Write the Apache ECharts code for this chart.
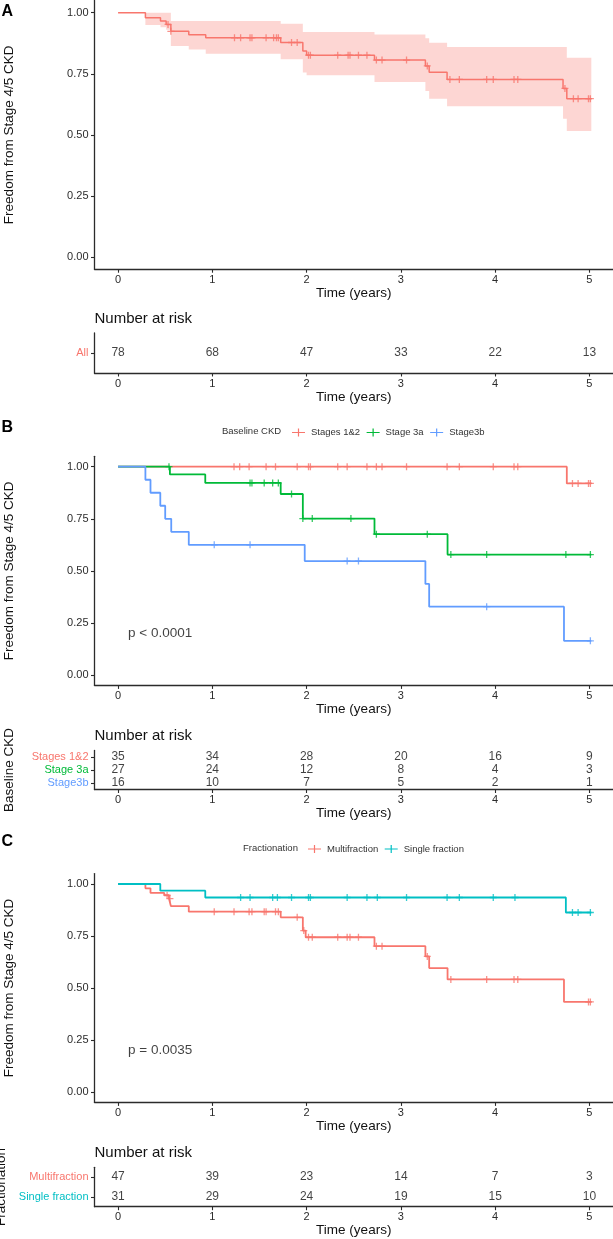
<!DOCTYPE html>
<html><head><meta charset="utf-8">
<script src="https://cdn.jsdelivr.net/npm/echarts@6/dist/echarts.min.js"></script>
<style>html,body{margin:0;padding:0;background:#fff}#c{width:613px;height:1239px}</style>
</head><body><div id="c"></div>
<script>
// ---------------- DATA ----------------
const xTicks = [0, 1, 2, 3, 4, 5];
const yTicks = [0, 0.25, 0.5, 0.75, 1];

// Panel A : all patients
const allTimes = [0, 0.29, 0.45, 0.51, 0.56, 0.75, 0.93, 1.725, 1.96, 2.0, 2.72, 3.26, 3.30, 3.49, 4.72, 4.76, 5.02];
const allSurv  = [1, 0.979, 0.966, 0.952, 0.924, 0.910, 0.897, 0.878, 0.843, 0.826, 0.806, 0.782, 0.756, 0.727, 0.690, 0.648, 0.648];
const allUpper = [1, 1, 1, 1, 0.966, 0.966, 0.966, 0.955, 0.921, 0.921, 0.911, 0.895, 0.877, 0.860, 0.860, 0.816, 0.816];
const allLower = [1, 0.95, 0.94, 0.93, 0.864, 0.849, 0.832, 0.809, 0.755, 0.744, 0.716, 0.680, 0.648, 0.617, 0.566, 0.516, 0.516];
const allCensor = [0.53, 0.56, 1.235, 1.30, 1.40, 1.42, 1.57, 1.65, 1.68, 1.70, 1.84, 1.90, 2.02, 2.04, 2.33, 2.44, 2.46, 2.55, 2.64, 2.74, 2.80, 3.06, 3.28, 3.52, 3.62, 3.91, 3.98, 4.20, 4.24, 4.74, 4.83, 4.88, 4.99, 5.01];
const riskAll = [78, 68, 47, 33, 22, 13];

// Panel B : baseline CKD
const ckdGroups = ['Stages 1&2', 'Stage 3a', 'Stage3b'];
const s12Times = [0, 4.76, 5.02];
const s12Surv  = [1, 0.92, 0.92];
const s12Censor = [1.23, 1.29, 1.39, 1.57, 1.67, 1.90, 2.02, 2.04, 2.33, 2.43, 2.64, 2.74, 2.80, 3.06, 3.49, 3.62, 3.98, 4.20, 4.24, 4.82, 4.88, 4.99, 5.01];
const s3aTimes = [0, 0.55, 0.925, 1.725, 1.96, 2.72, 3.495, 5.02];
const s3aSurv  = [1, 0.963, 0.922, 0.869, 0.751, 0.676, 0.578, 0.578];
const s3aCensor = [0.54, 1.40, 1.42, 1.55, 1.64, 1.70, 1.84, 1.96, 2.06, 2.47, 2.74, 3.28, 3.53, 3.91, 4.75, 5.01];
const s3bTimes = [0, 0.29, 0.344, 0.448, 0.50, 0.564, 0.75, 1.98, 3.26, 3.30, 4.73, 5.02];
const s3bSurv  = [1, 0.9375, 0.875, 0.8125, 0.75, 0.6875, 0.625, 0.547, 0.437, 0.328, 0.164, 0.164];
const s3bCensor = [1.02, 1.40, 2.43, 2.55, 3.91, 5.01];
const riskS12 = [35, 34, 28, 20, 16, 9];
const riskS3a = [27, 24, 12, 8, 4, 3];
const riskS3b = [16, 10, 7, 5, 2, 1];
const pCKD = 'p < 0.0001';

// Panel C : fractionation
const fracGroups = ['Multifraction', 'Single fraction'];
const multiTimes = [0, 0.29, 0.344, 0.49, 0.54, 0.56, 0.75, 1.725, 1.96, 1.99, 2.72, 3.26, 3.30, 3.495, 4.73, 5.02];
const multiSurv  = [1, 0.979, 0.957, 0.946, 0.93, 0.894, 0.867, 0.84, 0.776, 0.744, 0.701, 0.652, 0.596, 0.541, 0.433, 0.433];
const multiCensor = [0.52, 0.55, 1.02, 1.23, 1.39, 1.42, 1.55, 1.57, 1.67, 1.70, 1.90, 1.97, 2.02, 2.06, 2.33, 2.43, 2.46, 2.55, 2.74, 2.80, 3.28, 3.53, 3.91, 4.20, 4.24, 4.99, 5.01];
const singleTimes = [0, 0.448, 0.925, 4.75, 5.02];
const singleSurv  = [1, 0.968, 0.935, 0.863, 0.863];
const singleCensor = [1.30, 1.40, 1.64, 1.69, 1.84, 2.02, 2.04, 2.43, 2.64, 2.75, 3.06, 3.49, 3.62, 3.98, 4.21, 4.82, 4.88, 5.01];
const riskMulti  = [47, 39, 23, 14, 7, 3];
const riskSingle = [31, 29, 24, 19, 15, 10];
const pFrac = 'p = 0.0035';

// ---------------- STYLE / LAYOUT ----------------
const FONT = '"Liberation Sans", Arial, Helvetica, sans-serif';
const AX = '#2b2b2b';
const RED = '#F8766D', GREEN = '#00BA38', BLUE = '#619CFF', CYAN = '#00BFC4';
const CROSS = 'path://M0,5L10,5M5,0L5,10';
const LEGICON = 'path://M0,3.4H13V4.6H0Z M5.9,0H7.1V8H5.9Z';

const G = {left: 94.5, right: 0, containLabel: false, outerBoundsMode: 'none'};
const grids = [
  Object.assign({top: 0.5,    height: 268.7}, G),   // 0 A plot
  Object.assign({top: 333,    height: 40}, G),      // 1 A risk
  Object.assign({top: 456.3,  height: 229.1}, G),   // 2 B plot
  Object.assign({top: 750.5,  height: 39}, G),      // 3 B risk
  Object.assign({top: 873.6,  height: 228.8}, G),   // 4 C plot
  Object.assign({top: 1167.3, height: 39.4}, G)     // 5 C risk
];

function survAt(times, surv, t) {
  let v = surv[0];
  for (let i = 0; i < times.length; i++) if (times[i] <= t) v = surv[i];
  return v;
}

function xAxisFor(gi) {
  return {
    type: 'value', gridIndex: gi, min: -0.25, max: 5.25,
    axisLine: {show: true, onZero: false, lineStyle: {color: AX, width: 1.3}},
    axisTick: {show: true, length: 3.5, customValues: xTicks, lineStyle: {color: AX, width: 1.1}},
    axisLabel: {customValues: xTicks, fontSize: 11, color: AX, margin: 5, fontFamily: FONT},
    splitLine: {show: false},
    name: 'Time (years)', nameLocation: 'middle', nameGap: 17,
    nameTextStyle: {fontSize: 13.5, color: '#111', fontFamily: FONT}
  };
}
function yPlotAxis(gi) {
  return {
    type: 'value', gridIndex: gi, min: -0.05, max: 1.05,
    axisLine: {show: true, onZero: false, lineStyle: {color: AX, width: 1.3}},
    axisTick: {show: true, length: 3.5, customValues: yTicks, lineStyle: {color: AX, width: 1.1}},
    axisLabel: {customValues: yTicks, fontSize: 11, color: AX, margin: 6, fontFamily: FONT,
      formatter: v => v.toFixed(2)},
    splitLine: {show: false},
    name: 'Freedom from Stage 4/5 CKD', nameLocation: 'middle', nameGap: 78,
    nameTextStyle: {fontSize: 13.5, color: '#111', fontFamily: FONT}
  };
}
function yRiskAxis(gi, groups, colors, title) {
  const cmap = {};
  groups.forEach((g, i) => cmap[g] = colors[i]);
  return {
    type: 'category', gridIndex: gi, data: groups.slice().reverse(),
    axisLine: {show: true, onZero: false, lineStyle: {color: AX, width: 1.3}},
    axisTick: {show: true, alignWithLabel: true, interval: 0, length: 3.5, lineStyle: {color: AX, width: 1.1}},
    axisLabel: {interval: 0, fontSize: 11, margin: 6, fontFamily: FONT, color: v => cmap[v]},
    splitLine: {show: false},
    name: title, nameLocation: 'middle', nameGap: 78,
    nameTextStyle: {fontSize: 13.5, color: '#111', fontFamily: FONT}
  };
}

function kmSeries(name, times, surv, censor, color, ai, width) {
  return [
    {type: 'line', name: name, xAxisIndex: ai, yAxisIndex: ai, step: 'end', showSymbol: false,
     data: times.map((t, i) => [t, surv[i]]), color: color,
     lineStyle: {color: color, width: width}, itemStyle: {color: color}, z: 3, silent: true},
    {type: 'scatter', name: name + ' censor', xAxisIndex: ai, yAxisIndex: ai, symbol: CROSS, symbolSize: 7,
     data: censor.map(t => [t, survAt(times, surv, t)]),
     itemStyle: {color: 'rgba(0,0,0,0)', borderColor: color, borderWidth: 1.3}, z: 4, silent: true}
  ];
}
function riskSeries(ai, group, counts) {
  return {type: 'scatter', xAxisIndex: ai, yAxisIndex: ai, symbolSize: 1, silent: true,
    itemStyle: {color: 'rgba(0,0,0,0)'},
    data: xTicks.map((t, i) => [t, group, counts[i]]),
    label: {show: true, position: 'inside', formatter: p => String(p.value[2]),
      fontSize: 12, color: '#111', fontFamily: FONT}};
}
function pSeries(ai, text) {
  return {type: 'scatter', xAxisIndex: ai, yAxisIndex: ai, symbolSize: 1, silent: true,
    itemStyle: {color: 'rgba(0,0,0,0)'}, data: [[0.1, 0.2]],
    label: {show: true, position: 'right', distance: 0, formatter: () => text,
      fontSize: 13.5, color: '#111', fontFamily: FONT}};
}

// CI band for panel A, drawn through the axis scale
const bandSeries = {
  type: 'custom', xAxisIndex: 0, yAxisIndex: 0, silent: true, z: 1,
  data: allTimes.map((t, i) => [t, allLower[i], allUpper[i]]),
  renderItem: function (params, api) {
    if (params.dataIndex !== 0) return null;
    const pts = [];
    for (let i = 0; i < allTimes.length - 1; i++) {
      pts.push(api.coord([allTimes[i], allUpper[i]]));
      pts.push(api.coord([allTimes[i + 1], allUpper[i]]));
    }
    for (let i = allTimes.length - 2; i >= 0; i--) {
      pts.push(api.coord([allTimes[i + 1], allLower[i]]));
      pts.push(api.coord([allTimes[i], allLower[i]]));
    }
    return {type: 'polygon', shape: {points: pts}, style: {fill: 'rgba(248,118,109,0.3)'}};
  }
};

const series = [].concat(
  [bandSeries],
  kmSeries('All', allTimes, allSurv, allCensor, RED, 0, 1.5),
  [riskSeries(1, 'All', riskAll)],
  kmSeries(ckdGroups[0], s12Times, s12Surv, s12Censor, RED, 2, 1.8),
  kmSeries(ckdGroups[1], s3aTimes, s3aSurv, s3aCensor, GREEN, 2, 1.8),
  kmSeries(ckdGroups[2], s3bTimes, s3bSurv, s3bCensor, BLUE, 2, 1.8),
  [pSeries(2, pCKD)],
  [riskSeries(3, ckdGroups[0], riskS12), riskSeries(3, ckdGroups[1], riskS3a), riskSeries(3, ckdGroups[2], riskS3b)],
  kmSeries(fracGroups[0], multiTimes, multiSurv, multiCensor, RED, 4, 1.8),
  kmSeries(fracGroups[1], singleTimes, singleSurv, singleCensor, CYAN, 4, 1.8),
  [pSeries(4, pFrac)],
  [riskSeries(5, fracGroups[0], riskMulti), riskSeries(5, fracGroups[1], riskSingle)]
);

function txt(x, y, text, font, fill, extra) {
  return Object.assign({type: 'text', x: x, y: y, silent: true,
    style: {text: text, font: font, fill: fill || '#111', verticalAlign: 'middle', align: 'left'}}, extra || {});
}

const option = {
  animation: false,
  backgroundColor: '#fff',
  grid: grids,
  xAxis: [0, 1, 2, 3, 4, 5].map(xAxisFor),
  yAxis: [
    yPlotAxis(0),
    Object.assign(yRiskAxis(1, ['All'], [RED], ''), {name: ''}),
    yPlotAxis(2),
    yRiskAxis(3, ckdGroups, [RED, GREEN, BLUE], 'Baseline CKD'),
    yPlotAxis(4),
    yRiskAxis(5, fracGroups, [RED, CYAN], 'Fractionation')
  ],
  legend: [
    {data: ckdGroups.map((g, i) => ({name: g, itemStyle: {color: [RED, GREEN, BLUE][i]}})),
     left: 287, top: 422.5, icon: LEGICON, itemWidth: 15, itemHeight: 8, itemGap: 6.5,
     selectedMode: false, textStyle: {fontSize: 9.5, color: '#333', fontFamily: FONT}},
    {data: fracGroups.map((g, i) => ({name: g, itemStyle: {color: [RED, CYAN][i]}})),
     left: 303, top: 839, icon: LEGICON, itemWidth: 15, itemHeight: 8, itemGap: 6.5,
     selectedMode: false, textStyle: {fontSize: 9.5, color: '#333', fontFamily: FONT}}
  ],
  graphic: [
    txt(1.5, 11.7, 'A', 'bold 16px ' + FONT, '#000'),
    txt(1.5, 427.2, 'B', 'bold 16px ' + FONT, '#000'),
    txt(1.5, 842, 'C', 'bold 16px ' + FONT, '#000'),
    txt(94.5, 319, 'Number at risk', '15px ' + FONT),
    txt(94.5, 736, 'Number at risk', '15px ' + FONT),
    txt(94.5, 1152.7, 'Number at risk', '15px ' + FONT),
    txt(222, 431.7, 'Baseline CKD', '9.5px ' + FONT, '#333'),
    txt(243, 848, 'Fractionation', '9.5px ' + FONT, '#333')
  ],
  series: series
};

const chart = echarts.init(document.getElementById('c'), null, {renderer: 'canvas'});
chart.setOption(option);
</script>
</body></html>
